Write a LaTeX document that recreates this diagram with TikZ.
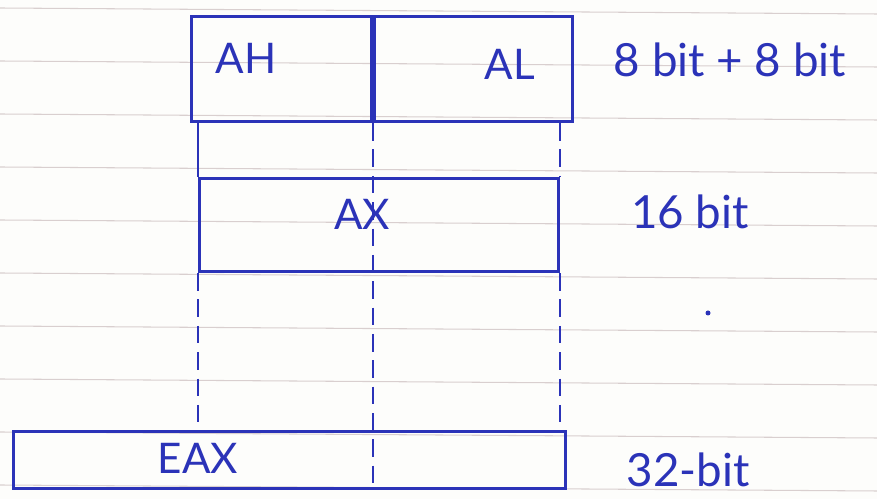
\documentclass[tikz,border=0pt]{standalone}
\usepackage{fontspec}
\setmainfont{Lato}
\usetikzlibrary{positioning,calc}
\definecolor{regInk}{HTML}{2B33B8}
\definecolor{regPaper}{HTML}{FDFDFB}
\definecolor{regRule}{HTML}{D9CFCF}
\tikzset{
  regbox/.style={draw=regInk, line width=1.8pt, minimum width=#1, inner sep=0pt, anchor=north west},
  regname/.style={text=regInk, font=\fontsize{24}{26}\selectfont, inner sep=1pt},
  sizetag/.style={text=regInk, font=\fontsize{26}{28}\selectfont, inner sep=1pt},
  split/.style={draw=regInk, line width=1.3pt, dash pattern=on 10pt off 5pt},
  rule/.style={draw=regRule, line width=0.6pt}
}
\begin{document}
\begin{tikzpicture}[x=0.02cm, y=-0.02cm]
  % paper
  \fill[regPaper] (0,0) rectangle (877,499);
  \useasboundingbox (0,0) rectangle (877,499);
  \foreach \ry in {8,61,114,167,220,273,326,379,432,485}
    \draw[rule] (0,\ry) -- (877,\ry+6);

  % 8 bit halves
  \node[regbox=3.6cm, minimum height=2.1cm] (ah) at (190,15) {};
  \node[regbox=3.96cm, minimum height=2.1cm] (al) at (ah.north east) {};
  \node[regname] (ahtxt) at (246,58) {AH};
  \node[regname] (altxt) at (510,64) {AL};
  \node[sizetag] (s8) at (730,60) {8 bit + 8 bit};

  % 16 bit
  \node[regbox=7.18cm, minimum height=1.86cm] (ax) at (198,177) {};
  \node[regname] (axtxt) at (362,214) {AX};
  \node[sizetag] (s16) at (690,212) {16 bit};

  % 32 bit
  \node[regbox=11.04cm, minimum height=1.14cm] (eax) at (12,430) {};
  \node[regname] (eaxtxt) at (198,458) {EAX};
  \node[sizetag] (s32) at (688,470) {32-bit};

  % guide lines
  \draw[regInk, line width=1.3pt] (ax.north west |- ah.south) -- (ax.north west);
  \draw[split] (ah.south east) -- (ah.south east |- eax.south);
  \draw[split] (ax.north east |- al.south) -- (ax.north east);
  \draw[split] (ax.south west) -- (ax.south west |- eax.north);
  \draw[split] (ax.south east) -- (ax.south east |- eax.north);

  \fill[regInk] (708,313) circle (2.5);
\end{tikzpicture}
\end{document}
